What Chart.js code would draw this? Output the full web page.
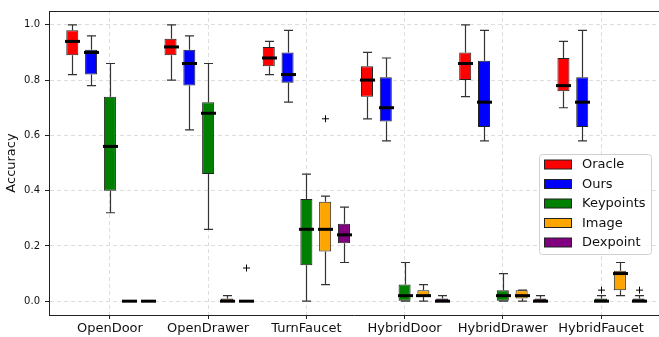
<!DOCTYPE html>
<html>
<head>
<meta charset="utf-8">
<script src="https://cdn.jsdelivr.net/npm/chart.js@4.4.1/dist/chart.umd.min.js"></script>
<style>
  html, body { margin: 0; padding: 0; background: #fff; }
</style>
</head>
<body>
<canvas id="chart" width="659" height="337"></canvas>
<script>
/* =========================
   DATA
========================= */
const tasks = ["OpenDoor", "OpenDrawer", "TurnFaucet", "HybridDoor", "HybridDrawer", "HybridFaucet"];
const methods = ["Oracle", "Ours", "Keypoints", "Image", "Dexpoint"];
const colors = ["#ff0000", "#0000ff", "#008000", "#ffa500", "#800080"];
const yTicks = [0, 0.2, 0.4, 0.6, 0.8, 1.0];

// per task: [low whisker, q1, median, q3, high whisker]
const oracle = [
  [0.82, 0.89, 0.94, 0.98, 1.00],
  [0.80, 0.89, 0.92, 0.95, 1.00],
  [0.82, 0.85, 0.88, 0.92, 0.94],
  [0.66, 0.74, 0.80, 0.85, 0.90],
  [0.74, 0.80, 0.86, 0.90, 1.00],
  [0.70, 0.76, 0.78, 0.88, 0.94]
];
const ours = [
  [0.78, 0.82, 0.90, 0.91, 0.96],
  [0.62, 0.78, 0.86, 0.91, 0.96],
  [0.72, 0.79, 0.82, 0.90, 0.98],
  [0.58, 0.65, 0.70, 0.81, 0.88],
  [0.58, 0.63, 0.72, 0.87, 0.98],
  [0.58, 0.63, 0.72, 0.81, 0.98]
];
const keypoints = [
  [0.32, 0.40, 0.56, 0.74, 0.86],
  [0.26, 0.46, 0.68, 0.72, 0.86],
  [0.00, 0.13, 0.26, 0.37, 0.46],
  [0.00, 0.00, 0.02, 0.06, 0.14],
  [0.00, 0.00, 0.02, 0.04, 0.10],
  [0.00, 0.00, 0.00, 0.01, 0.02]
];
const image = [
  [0.00, 0.00, 0.00, 0.00, 0.00],
  [0.00, 0.00, 0.00, 0.01, 0.02],
  [0.06, 0.18, 0.26, 0.36, 0.38],
  [0.00, 0.02, 0.02, 0.04, 0.06],
  [0.00, 0.01, 0.02, 0.04, 0.04],
  [0.02, 0.04, 0.10, 0.11, 0.14]
];
const dexpoint = [
  [0.00, 0.00, 0.00, 0.00, 0.00],
  [0.00, 0.00, 0.00, 0.00, 0.00],
  [0.14, 0.21, 0.24, 0.28, 0.34],
  [0.00, 0.00, 0.00, 0.01, 0.02],
  [0.00, 0.00, 0.00, 0.01, 0.02],
  [0.00, 0.00, 0.00, 0.01, 0.02]
];

// outliers per task
const oracleOut = [[], [], [], [], [], []];
const oursOut = [[], [], [], [], [], []];
const keypointsOut = [[], [], [], [], [], [0.04]];
const imageOut = [[], [], [0.66], [], [], []];
const dexpointOut = [[], [0.12], [], [], [], [0.04]];

const allStats = [oracle, ours, keypoints, image, dexpoint];
const allOut = [oracleOut, oursOut, keypointsOut, imageOut, dexpointOut];

/* =========================
   PLUGINS
========================= */
const boxExtras = {
  id: "boxExtras",
  afterDatasetsDraw(chart) {
    const ctx = chart.ctx;
    const y = chart.scales.y;
    chart.data.datasets.forEach((ds, k) => {
      const meta = chart.getDatasetMeta(k);
      meta.data.forEach((bar, i) => {
        const s = ds.stats[i];
        const cx = Math.round(bar.x) + 0.5;
        const w = bar.width;
        const cap = w * 0.75;
        ctx.save();
        // whiskers + caps
        ctx.strokeStyle = "#333";
        ctx.lineWidth = 1.2;
        ctx.beginPath();
        ctx.moveTo(cx, y.getPixelForValue(s[1]));
        ctx.lineTo(cx, y.getPixelForValue(s[0]));
        ctx.moveTo(cx, y.getPixelForValue(s[3]));
        ctx.lineTo(cx, y.getPixelForValue(s[4]));
        [s[0], s[4]].forEach(v => {
          const py = y.getPixelForValue(v);
          ctx.moveTo(cx - cap / 2, py);
          ctx.lineTo(cx + cap / 2, py);
        });
        ctx.stroke();
        // median
        ctx.strokeStyle = "#000";
        ctx.lineWidth = 3;
        const my = y.getPixelForValue(s[2]);
        ctx.beginPath();
        ctx.moveTo(cx - w / 2 - 1.5, my);
        ctx.lineTo(cx + w / 2 + 1.5, my);
        ctx.stroke();
        // outliers
        ctx.lineWidth = 1;
        ds.outliers[i].forEach(v => {
          const py = y.getPixelForValue(v);
          ctx.beginPath();
          ctx.moveTo(cx - 3.5, py);
          ctx.lineTo(cx + 3.5, py);
          ctx.moveTo(cx, py - 3.5);
          ctx.lineTo(cx, py + 3.5);
          ctx.stroke();
        });
        ctx.restore();
      });
    });
  },
  afterDraw(chart) {
    const ctx = chart.ctx;
    const area = chart.chartArea;
    ctx.save();
    // top spine
    ctx.strokeStyle = "#222";
    ctx.lineWidth = 1;
    ctx.beginPath();
    ctx.moveTo(area.left, Math.round(area.top) + 0.5);
    ctx.lineTo(area.right, Math.round(area.top) + 0.5);
    ctx.stroke();

    // legend box
    const lx = 539.5, ly = 154.5, lw = 112, lh = 100;
    ctx.fillStyle = "rgba(255,255,255,0.85)";
    ctx.strokeStyle = "#d0d0d0";
    ctx.beginPath();
    ctx.roundRect(lx, ly, lw, lh, 3);
    ctx.fill();
    ctx.stroke();

    ctx.font = "13px 'DejaVu Sans'";
    ctx.textBaseline = "middle";
    ctx.textAlign = "left";
    chart.data.datasets.forEach((ds, k) => {
      const cy = 164.5 + k * 19.5;
      ctx.fillStyle = ds.backgroundColor;
      ctx.fillRect(544.5, cy - 4.5, 27, 9);
      ctx.strokeStyle = "#222";
      ctx.strokeRect(544.5, cy - 4.5, 27, 9);
      ctx.fillStyle = "#111";
      ctx.fillText(ds.label, 582, cy + 0.5);
    });
    ctx.restore();
  }
};

/* =========================
   CHART
========================= */
Chart.defaults.font.family = "'DejaVu Sans', sans-serif";
Chart.defaults.color = "#111";

new Chart(document.getElementById("chart"), {
  type: "bar",
  data: {
    datasets: methods.map((m, k) => ({
      label: m,
      data: allStats[k].map((s, i) => ({ x: i, y: [s[1], s[3]] })),
      stats: allStats[k],
      outliers: allOut[k],
      backgroundColor: colors[k],
      borderColor: "#222",
      borderWidth: 1,
      borderSkipped: false,
      categoryPercentage: 0.957,
      barPercentage: 0.64
    }))
  },
  options: {
    responsive: false,
    animation: false,
    events: [],
    layout: { padding: { top: 10, right: 0, left: 0, bottom: 0 } },
    plugins: {
      legend: { display: false },
      tooltip: { enabled: false }
    },
    scales: {
      x: {
        type: "linear",
        offset: false,
        min: -0.62,
        max: 5.59,
        afterBuildTicks: scale => { scale.ticks = tasks.map((_, i) => ({ value: i })); },
        afterFit: scale => { scale.height = 22; },
        ticks: {
          callback: v => tasks[v],
          font: { size: 13 },
          padding: 2,
          maxRotation: 0,
          autoSkip: false
        },
        grid: { offset: false, color: "#dedede", tickColor: "#222", tickLength: 4 },
        border: { color: "#222", width: 1, dash: [4, 3] }
      },
      y: {
        min: -0.05,
        max: 1.05,
        afterBuildTicks: scale => { scale.ticks = yTicks.map(v => ({ value: v })); },
        afterFit: scale => { scale.width = 49; },
        ticks: {
          callback: v => v.toFixed(1),
          font: { size: 10 },
          padding: 5
        },
        grid: { color: "#dedede", tickColor: "#222", tickLength: 4 },
        border: { color: "#222", width: 1, dash: [4, 3] },
        title: {
          display: true,
          text: "Accuracy",
          font: { size: 13 },
          padding: { top: 4, bottom: 0 }
        }
      }
    }
  },
  plugins: [boxExtras]
});
</script>
</body>
</html>
